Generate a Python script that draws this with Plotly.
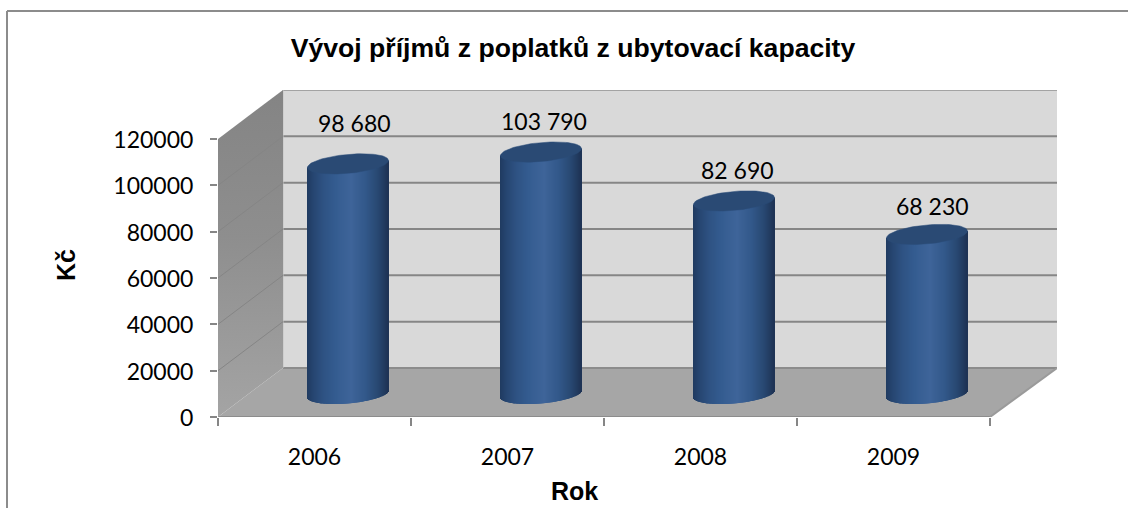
import numpy as np
import plotly.graph_objects as go

# ---- data ----
years = ["2006", "2007", "2008", "2009"]
income = [98680, 103790, 82690, 68230]
value_labels = ["98 680", "103 790", "82 690", "68 230"]
y_ticks = [0, 20000, 40000, 60000, 80000, 100000, 120000]
title_text = "Vývoj příjmů z poplatků z ubytovací kapacity"

# ---- look & geometry ----
W, H = 1128, 508
L, R, T, B = 218, 1057, 90, 417          # plot rectangle in px
UNIT_X = 193.0                            # px per category
UNIT_Y = 278.0 / 120000                   # px per Kč
DX = 65 / UNIT_X                          # 3-D depth in category units
DY = 49 / UNIT_Y                          # 3-D depth in Kč
x_max = 0.5 + (R - L) / UNIT_X
y_max = 120000 + DY
x_front_end = 4.5
HALF_W = 40.5 / UNIT_X
BAR_NUDGE = 1.0 / UNIT_X
TILT, THICK = 3.5 / UNIT_Y, 9.5 / UNIT_Y
BASE_NUDGE = 1.5 / UNIT_Y
N_STRIPS = 82
label_shift = [(6, 41), (3, 31), (3, 31), (5, 28)]   # px, hand-placed labels in the source

GRID = "#868686"
stops_u = [-1.0, -0.85, -0.6, -0.3, 0.1, 0.45, 0.75, 1.0]
stops_rgb = np.array([
    [32, 58, 96], [38, 69, 112], [46, 82, 131], [52, 92, 144],
    [62, 100, 153], [50, 88, 138], [40, 72, 114], [30, 50, 84]], float)


def strip_colour(u):
    rgb = [np.interp(u, stops_u, stops_rgb[:, c]) for c in range(3)]
    return "rgb(%d,%d,%d)" % tuple(int(round(v)) for v in rgb)


fig = go.Figure()

# left wall (gradient) with its oblique gridlines
fig.add_trace(go.Scatter(
    x=[0.5, 0.5 + DX, 0.5 + DX, 0.5, 0.5], y=[0, DY, DY + 120000, 120000, 0],
    mode="lines", line=dict(width=0), fill="toself",
    fillgradient=dict(type="vertical", colorscale=[[0, "#a4a4a4"], [0.55, "#8e8e8e"], [1, "#848484"]]),
    hoverinfo="skip", showlegend=False))
for v in y_ticks[1:-1]:
    fig.add_trace(go.Scatter(x=[0.5, 0.5 + DX], y=[v, v + DY], mode="lines",
                             line=dict(color="#858585", width=1), hoverinfo="skip", showlegend=False))

# cylinders: one bar per pixel column, shaded across the width
for i, value in enumerate(income):
    centre = i + 1 + DX / 2 + BAR_NUDGE
    us = (np.arange(N_STRIPS) + 0.5) / N_STRIPS * 2 - 1
    rim = np.sqrt(1 - us ** 2)
    bottom = DY / 2 - BASE_NUDGE + TILT * us - THICK * rim
    top = value + DY / 2 + TILT * us
    fig.add_trace(go.Bar(
        x=centre + us * HALF_W, base=bottom, y=top - bottom,
        width=2 * HALF_W / N_STRIPS * 1.25,
        marker=dict(color=[strip_colour(u) for u in us], line=dict(width=0)),
        hoverinfo="skip", showlegend=False))
    # top cap
    t = np.linspace(0, 2 * np.pi, 90)
    u = np.cos(t)
    fig.add_trace(go.Scatter(
        x=centre + u * HALF_W,
        y=value + DY / 2 + TILT * u + THICK * np.sin(t),
        mode="lines", line=dict(width=0.5, color="#2b4d78"), fill="toself",
        fillcolor="#2a4a74", hoverinfo="skip", showlegend=False))

shapes = []


def below_line(x0, y0, x1, y1, color=GRID, width=2):
    shapes.append(dict(type="line", xref="x", yref="y", x0=x0, y0=y0, x1=x1, y1=y1,
                       layer="below", line=dict(color=color, width=width)))


# back wall & floor
shapes.append(dict(type="rect", xref="x", yref="y", x0=0.5 + DX, x1=x_max, y0=DY, y1=y_max,
                   layer="below", fillcolor="#d9d9d9", line=dict(width=0)))
shapes.append(dict(type="path", xref="x", yref="y", layer="below", fillcolor="#a6a6a6", line=dict(width=0),
                   path=f"M 0.5 0 L {0.5 + DX} {DY} L {x_max} {DY} L {x_front_end} 0 Z"))
for v in y_ticks[1:-1]:
    below_line(0.5 + DX, v + DY, x_max, v + DY)
below_line(0.5 + DX, y_max, x_max, y_max, "#a3a3a3", 2)
below_line(0.5 + DX, DY, x_max, DY, "#8c8c8c", 2)
below_line(0.5, 0, x_front_end, 0, "#8c8c8c", 2)
below_line(x_front_end, 0, x_max, DY, "#9a9a9a", 2)
below_line(0.5 + DX, DY, 0.5 + DX, y_max, "#c4c4c4", 1)

# chart-area frame: only the top and left edges are visible
for x0, y0, x1, y1 in [(7 / W, 1 - 11 / H, 1, 1 - 11 / H), (7 / W, 0, 7 / W, 1 - 11 / H)]:
    shapes.append(dict(type="line", xref="paper", yref="paper",
                       x0=(x0 * W - L) / (R - L), x1=(x1 * W - L) / (R - L),
                       y0=(y0 * H - (H - B)) / (B - T), y1=(y1 * H - (H - B)) / (B - T),
                       line=dict(color="#8c8c8c", width=2)))

annotations = []
for i, (value, text) in enumerate(zip(income, value_labels)):
    sx, sy = label_shift[i]
    annotations.append(dict(x=i + 1 + DX / 2 + BAR_NUDGE, y=value + DY / 2, xref="x", yref="y", text=text,
                            showarrow=False, xshift=sx, yshift=sy, xanchor="center", yanchor="middle",
                            font=dict(family="Lato", size=23, color="black")))
annotations.append(dict(text="<b>Kč</b>", xref="paper", yref="paper", x=(66 - L) / (R - L), y=(B - 265) / (B - T),
                        textangle=-90, showarrow=False, xanchor="center", yanchor="middle",
                        font=dict(family="Liberation Sans", size=25, color="black")))
annotations.append(dict(text="<b>Rok</b>", xref="paper", yref="paper", x=(574 - L) / (R - L), y=(B - 491) / (B - T),
                        showarrow=False, xanchor="center", yanchor="middle",
                        font=dict(family="Liberation Sans", size=25, color="black")))

fig.update_layout(
    width=W, height=H,
    margin=dict(l=L, r=W - R, t=T, b=H - B, pad=0),
    paper_bgcolor="white", plot_bgcolor="white",
    barmode="overlay", showlegend=False,
    title=dict(text=f"<b>{title_text}</b>", x=573 / W, y=1 - 48 / H, xref="container", yref="container",
               xanchor="center", yanchor="middle",
               font=dict(family="Liberation Sans", size=26.6, color="black")),
    shapes=shapes, annotations=annotations,
    xaxis=dict(range=[0.5, x_max], tickmode="array", tickvals=[1, 2, 3, 4], ticktext=years,
               ticks="", showgrid=False, zeroline=False, showline=False, ticklabelstandoff=24,
               tickfont=dict(family="Lato", size=23, color="black"),
               minor=dict(tickmode="array", tickvals=[0.5, 1.5, 2.5, 3.5, 4.5], ticks="outside",
                          ticklen=8, tickwidth=2, tickcolor=GRID, showgrid=False)),
    yaxis=dict(range=[0, y_max], tickmode="array", tickvals=y_ticks, ticktext=[str(v) for v in y_ticks],
               ticks="outside", ticklen=7, tickwidth=2, tickcolor=GRID, showgrid=False,
               zeroline=False, showline=False, ticklabelstandoff=12, ticklabelshift=1,
               tickfont=dict(family="Lato", size=23, color="black")),
)
fig.write_html("out.html", config=dict(displayModeBar=False),
               post_script="document.body.style.margin='0';document.documentElement.style.overflow='hidden';")
